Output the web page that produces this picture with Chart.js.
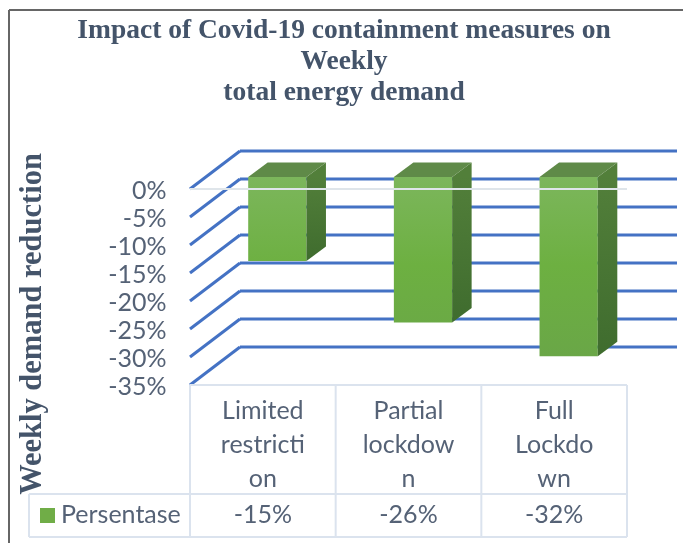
<!DOCTYPE html>
<html>
<head>
<meta charset="utf-8">
<title>Weekly demand reduction</title>
<style>
body { margin: 0; background: #fff; }
canvas { display: block; filter: blur(0.6px); }
</style>
<script src="https://cdn.jsdelivr.net/npm/chart.js@4"></script>
</head>
<body>
<canvas id="chart" width="683" height="543"></canvas>
<script>
const categories = [['Limited', 'restricti', 'on'], ['Partial', 'lockdow', 'n'], ['Full', 'Lockdo', 'wn']];
const seriesName = 'Persentase';
const values = [-15, -26, -32];
const valueLabels = ['-15%', '-26%', '-32%'];
const tickValues = [-35, -30, -25, -20, -15, -10, -5, 0];
const tickLabels = ['-35%', '-30%', '-25%', '-20%', '-15%', '-10%', '-5%', '0%'];
const titleLines = ['Impact of Covid-19 containment measures on', 'Weekly', 'total energy demand'];
const yTitle = 'Weekly demand reduction';

const TEXT = '#556276';
const TITLE = '#44546a';
const GRID = '#dbe3ee';
const BLUE = '#4472c4';

// bars sit a bit behind the front edge of the floor
const PLANE_X = 14.5, PLANE_Y = 12;
const BACK_X = 50, BACK_Y = 38;
const BAR_DX = 19.5, BAR_DY = 14.5;

function line(ctx, x1, y1, x2, y2) {
    ctx.beginPath();
    ctx.moveTo(x1, y1);
    ctx.lineTo(x2, y2);
    ctx.stroke();
}

function face(ctx, pts, fill) {
    ctx.beginPath();
    pts.forEach((p, i) => i ? ctx.lineTo(p[0], p[1]) : ctx.moveTo(p[0], p[1]));
    ctx.closePath();
    ctx.fillStyle = fill;
    ctx.fill();
}

const walls = {
    id: 'walls',
    beforeDatasetsDraw(chart) {
        const ctx = chart.ctx, area = chart.chartArea, y = chart.scales.y;
        const left = area.left - PLANE_X;
        ctx.save();
        ctx.strokeStyle = BLUE;
        ctx.lineWidth = 3;
        y.ticks.forEach(t => {
            const py = y.getPixelForValue(t.value) + PLANE_Y;
            line(ctx, left, py, left + BACK_X, py - BACK_Y);
            line(ctx, left + BACK_X, py - BACK_Y, 677, py - BACK_Y);
        });
        ctx.restore();
    },
    afterDatasetsDraw(chart) {
        const ctx = chart.ctx, area = chart.chartArea, y = chart.scales.y;
        ctx.save();
        chart.getDatasetMeta(0).data.forEach(bar => {
            const l = bar.x - bar.width / 2, r = bar.x + bar.width / 2;
            const top = bar.base, bottom = bar.y;
            const side = ctx.createLinearGradient(0, top, 0, bottom);
            side.addColorStop(0, '#527f3a');
            side.addColorStop(1, '#3f6c2e');
            face(ctx, [[r, top], [r + BAR_DX, top - BAR_DY], [r + BAR_DX, bottom - BAR_DY], [r, bottom]], side);
            face(ctx, [[l, top], [l + BAR_DX, top - BAR_DY], [r + BAR_DX, top - BAR_DY], [r, top]], '#5f8a48');
        });
        // zero line runs over the bars
        const zero = y.getPixelForValue(0) + PLANE_Y;
        ctx.strokeStyle = '#dfe5ea';
        ctx.lineWidth = 2;
        line(ctx, area.left - PLANE_X, zero, area.right - PLANE_X, zero);
        ctx.restore();
    }
};

const labelsAndTable = {
    id: 'labelsAndTable',
    afterDraw(chart) {
        const ctx = chart.ctx, x = chart.scales.x;
        const TOP = 385, ROW = 494, BOTTOM = 537, KEY_LEFT = 29, RIGHT = 627;
        const colW = x.getPixelForValue(1) - x.getPixelForValue(0);
        const colX = i => x.getPixelForValue(i) - PLANE_X;
        ctx.save();

        // outer frame of the figure
        ctx.strokeStyle = '#666';
        ctx.lineWidth = 2;
        line(ctx, 9, 543, 9, 10);
        line(ctx, 9, 10, 683, 10);

        // data table
        ctx.strokeStyle = GRID;
        ctx.lineWidth = 2;
        line(ctx, colX(0) - colW / 2, TOP, RIGHT, TOP);
        line(ctx, KEY_LEFT, ROW, RIGHT, ROW);
        line(ctx, KEY_LEFT, BOTTOM, RIGHT, BOTTOM);
        line(ctx, KEY_LEFT, ROW, KEY_LEFT, BOTTOM);
        categories.forEach((c, i) => line(ctx, colX(i) - colW / 2, TOP, colX(i) - colW / 2, BOTTOM));
        line(ctx, RIGHT, TOP, RIGHT, BOTTOM);

        ctx.fillStyle = TEXT;
        ctx.font = '25px Lato';
        ctx.textAlign = 'center';
        ctx.textBaseline = 'middle';
        categories.forEach((c, i) => {
            c.forEach((s, j) => ctx.fillText(s, colX(i), 411 + j * 34));
            ctx.fillText(valueLabels[i], colX(i), 515);
        });
        ctx.textAlign = 'left';
        ctx.fillText(seriesName, 61, 515);
        ctx.fillStyle = '#70ad47';
        ctx.fillRect(40, 508, 15, 15);

        // title
        ctx.fillStyle = TITLE;
        ctx.font = 'bold 27.5px "Liberation Serif"';
        ctx.textAlign = 'center';
        titleLines.forEach((s, i) => ctx.fillText(s, 344, 31 + i * 31));

        // y axis title
        ctx.translate(33, 324);
        ctx.rotate(-Math.PI / 2);
        ctx.font = 'bold 30.5px "Liberation Serif"';
        ctx.fillText(yTitle, 0, 0);
        ctx.restore();
    }
};

new Chart(document.getElementById('chart'), {
    type: 'bar',
    data: {
        labels: categories.map(c => c.join('')),
        datasets: [{
            label: seriesName,
            data: values,
            barPercentage: 0.4,
            categoryPercentage: 1,
            backgroundColor(c) {
                const area = c.chart.chartArea;
                if (!area) return '#70ad47';
                const g = c.chart.ctx.createLinearGradient(0, area.top, 0, area.bottom);
                g.addColorStop(0, '#7cb65c');
                g.addColorStop(0.45, '#6db041');
                g.addColorStop(1, '#69a548');
                return g;
            }
        }]
    },
    options: {
        responsive: false,
        animation: false,
        layout: { padding: { top: 177, bottom: 170, right: 41.5 } },
        plugins: { legend: { display: false }, title: { display: false }, tooltip: { enabled: false } },
        scales: {
            x: { display: false },
            y: {
                min: -35,
                max: 0,
                afterFit(scale) { scale.width = 204.5; },
                afterBuildTicks(scale) { scale.ticks = tickValues.map(v => ({ value: v })); },
                border: { display: false },
                grid: { display: false, drawTicks: false },
                ticks: {
                    autoSkip: false,
                    padding: 38,
                    labelOffset: 14,
                    color: TEXT,
                    font: { family: 'Lato', size: 25 },
                    callback: v => tickLabels[tickValues.indexOf(v)]
                }
            }
        }
    },
    plugins: [walls, labelsAndTable]
});
</script>
</body>
</html>
